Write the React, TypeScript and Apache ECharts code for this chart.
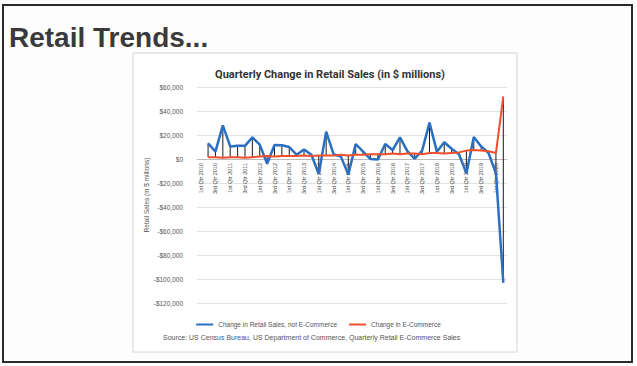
import React, { useEffect, useRef } from "react";
import * as echarts from "echarts";

const quarters: string[] = [];
for (let y = 2010; y <= 2020; y++) {
  for (const q of ["1st", "2nd", "3rd", "4th"]) {
    if (y === 2020 && (q === "3rd" || q === "4th")) continue;
    quarters.push(`${q} Qtr ${y}`);
  }
}

const nonEcommerce: (number | null)[] = [
  null, 13000, 6100, 28000, 10500, 11000, 11000, 18000, 12000, -4000,
  11700, 11500, 10000, 3500, 8000, 3500, -12500, 22800, 4000, 2000,
  -13000, 12500, 6100, 0, -500, 12500, 7500, 18000, 6500, 200,
  7000, 30300, 6100, 14000, 8500, 4000, -12000, 18300, 10500, 5000,
  -12000, -103000,
];

const ecommerce: (number | null)[] = [
  null, 1500, 1500, 1000, 1500, 1500, 1000, 1500, 2000, 2500,
  2000, 2500, 2500, 2500, 3000, 2500, 3000, 3000, 3000, 3500,
  3000, 3500, 3500, 4000, 4000, 4000, 4500, 4000, 4500, 4500,
  4000, 5000, 5000, 4500, 5000, 5500, 7000, 7500, 7000, 6500,
  5000, 52000,
];

const seriesNames = ["Change in Retail Sales, not E-Commerce", "Change in E-Commerce"];

export default function App() {
  const ref = useRef<HTMLDivElement>(null);
  useEffect(() => {
    if (!ref.current) return;
    const chart = echarts.init(ref.current, undefined, { renderer: "svg" });
    const hl = quarters
      .map((_, i) => [i, nonEcommerce[i], ecommerce[i]])
      .filter((d) => d[1] != null && d[2] != null);
    chart.setOption({
      animation: false,
      backgroundColor: "#fdfdfd",
      title: [
        {
          text: "Retail Trends...",
          left: 4,
          top: 18,
          textStyle: { fontFamily: "Liberation Sans, Arial, sans-serif", fontSize: 28, fontWeight: "bold", color: "#3a3a3a" },
        },
        {
          text: "Quarterly Change in Retail Sales (in $ millions)",
          left: 325,
          textAlign: "center",
          top: 64,
          textStyle: { fontFamily: "Liberation Sans Narrow, Roboto, sans-serif", fontSize: 11, fontWeight: "bold", color: "#333" },
        },
      ],
      graphic: [
        { type: "rect", shape: { x: 3, y: 5, width: 629, height: 357 }, style: { fill: "none", stroke: "#2a2a2a", lineWidth: 2 }, silent: true },
        { type: "rect", shape: { x: 133, y: 53, width: 384, height: 299 }, style: { fill: "#ffffff", stroke: "#d4d4d4", lineWidth: 1 }, z: -1, silent: true },
        {
          type: "text",
          left: 163,
          top: 334,
          style: {
            text: "Source: US Census Bureau, US Department of Commerce, Quarterly Retail E-Commerce Sales",
            fontSize: 7,
            fontFamily: "Liberation Sans, Arial, sans-serif",
            fill: "#555",
          },
        },
      ],
      legend: {
        data: seriesNames,
        top: 316,
        left: "center",
        itemWidth: 17,
        itemHeight: 2,
        itemGap: 12,
        icon: "rect",
        textStyle: { fontSize: 6.5, color: "#555", fontFamily: "Liberation Sans, Arial, sans-serif" },
      },
      grid: { left: 197, right: 130, top: 87, bottom: 63 },
      xAxis: {
        type: "category",
        data: quarters,
        boundaryGap: true,
        position: "bottom",
        offset: -144,
        axisLine: { onZero: false, lineStyle: { color: "#bbb" } },
        axisTick: { show: false },
        axisLabel: { interval: 1, rotate: 90, fontSize: 5.5, color: "#444", margin: 4, fontFamily: "Liberation Sans, Arial, sans-serif" },
      },
      yAxis: {
        type: "value",
        min: -120000,
        max: 60000,
        interval: 20000,
        name: "Retail Sales (in $ millions)",
        nameLocation: "middle",
        nameGap: 42,
        nameTextStyle: { fontSize: 6.5, color: "#555", fontFamily: "Liberation Sans, Arial, sans-serif" },
        axisLine: { show: false },
        axisTick: { show: false },
        splitLine: { lineStyle: { color: "#e2e2e2" } },
        axisLabel: {
          fontSize: 6.5,
          color: "#555",
          margin: 14,
          fontFamily: "Liberation Sans, Arial, sans-serif",
          formatter: (v: number) => (v < 0 ? "-$" : "$") + Math.abs(v).toLocaleString("en-US"),
        },
      },
      series: [
        {
          type: "custom",
          z: 1,
          silent: true,
          renderItem: (params: any, api: any) => {
            const a = api.coord([api.value(0), api.value(1)]);
            const b = api.coord([api.value(0), api.value(2)]);
            return { type: "line", shape: { x1: a[0], y1: a[1], x2: b[0], y2: b[1] }, style: { stroke: "#1a1a1a", lineWidth: 1 } };
          },
          data: hl,
        },
        {
          name: seriesNames[0],
          type: "line",
          data: nonEcommerce,
          symbol: "none",
          z: 3,
          lineStyle: { color: "#2b6fc2", width: 2.5 },
          itemStyle: { color: "#2b6fc2" },
        },
        {
          name: seriesNames[1],
          type: "line",
          data: ecommerce,
          symbol: "none",
          z: 4,
          lineStyle: { color: "#ef4f2c", width: 2 },
          itemStyle: { color: "#ef4f2c" },
        },
      ],
    });
    return () => chart.dispose();
  }, []);
  return <div ref={ref} style={{ position: "fixed", left: 0, top: 0, width: 637, height: 366 }} />;
}
